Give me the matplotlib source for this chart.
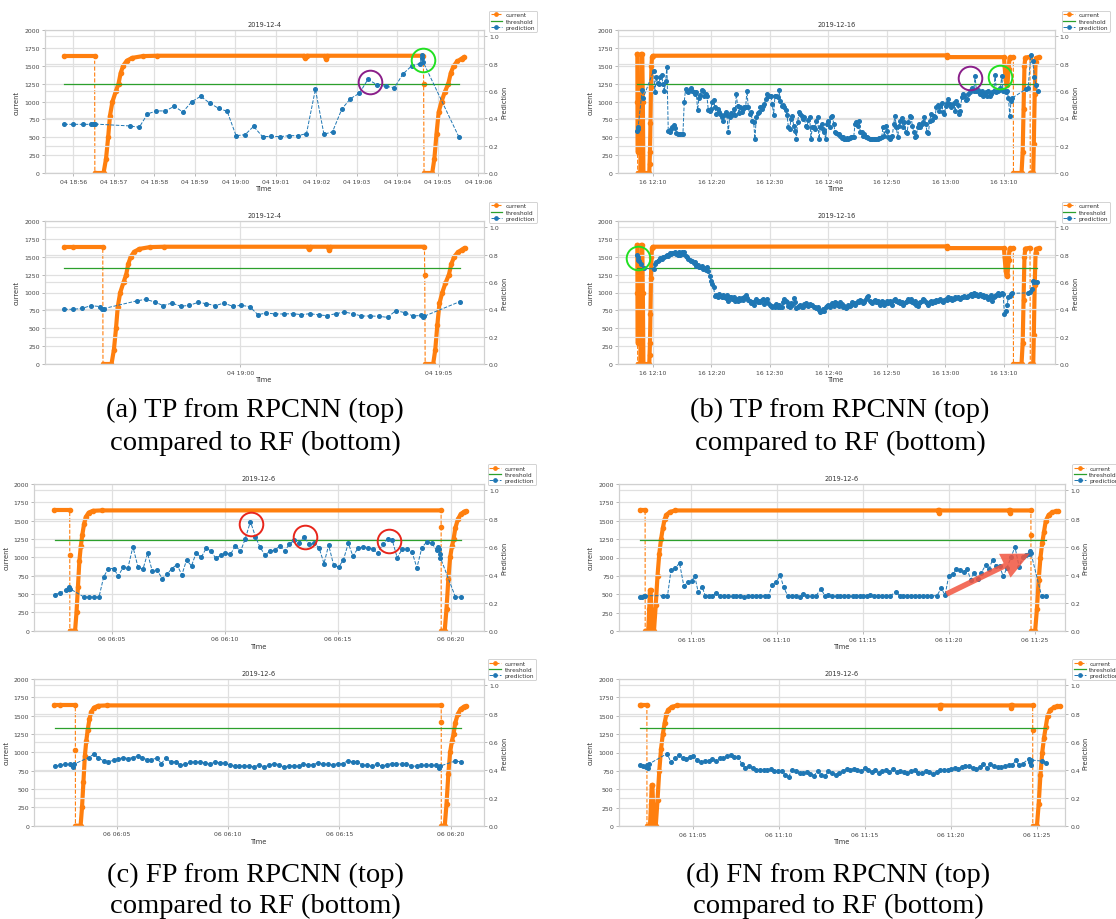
import numpy as np
import matplotlib
matplotlib.use('Agg')
import matplotlib.pyplot as plt
import matplotlib.dates as mdates
from matplotlib.lines import Line2D

# ------------------------------------------------------------------
# data (times are minutes after the base time of each case)
# current is stored as runs of dense sampling; gaps between runs are jumps
# ------------------------------------------------------------------

# (a) 2019-12-04, base 18:56
a_base = '2019-12-04T18:56:00'
a_cur_t = [[-0.459, -0.22, 0.53],
           [0.535, 0.75, 0.811, 0.864, 0.908, 0.97, 1.058, 1.12, 1.173, 1.235, 1.323, 1.455, 1.72, 2.072,
            5.70, 5.73, 5.76, 6.21, 6.235, 6.26, 8.642],
           [8.65],
           [8.66, 8.862, 8.915, 8.968, 9.021, 9.092, 9.171, 9.259, 9.321, 9.392, 9.48, 9.586, 9.656]]
a_cur_v = [[1640, 1640, 1640],
           [0, 0, 200, 500, 800, 1000, 1150, 1250, 1400, 1500, 1570, 1610, 1635, 1640,
            1640, 1612, 1640, 1640, 1598, 1640, 1640],
           [1250],
           [0, 0, 200, 550, 850, 1000, 1130, 1250, 1400, 1500, 1560, 1600, 1625]]
a_top_t = [-0.22, 0.0, 0.238, 0.441, 0.485, 0.529, 1.411, 1.631, 1.834, 2.055, 2.275, 2.496, 2.707, 2.928,
           3.148, 3.377, 3.589, 3.801, 4.021, 4.242, 4.453, 4.674, 4.894, 5.106, 5.335, 5.547, 5.758, 5.979,
           6.19, 6.402, 6.631, 6.843, 7.063, 7.275, 7.496, 7.716, 7.928, 8.139, 8.36, 8.554, 8.598, 8.62,
           8.642, 9.524]
a_top_p = [0.356, 0.356, 0.356, 0.356, 0.356, 0.358, 0.344, 0.334, 0.432, 0.454, 0.454, 0.488, 0.446, 0.522,
           0.561, 0.51, 0.473, 0.451, 0.273, 0.28, 0.341, 0.266, 0.268, 0.266, 0.273, 0.273, 0.288, 0.612,
           0.283, 0.302, 0.468, 0.544, 0.583, 0.685, 0.646, 0.634, 0.624, 0.724, 0.785, 0.80, 0.84, 0.86,
           0.81, 0.261]
a_bot_t = [-0.441, -0.216, 0.009, 0.234, 0.459, 0.505, 0.55, 1.405, 1.613, 1.838, 2.054, 2.279, 2.495, 2.712,
           2.937, 3.144, 3.369, 3.586, 3.802, 4.018, 4.234, 4.441, 4.658, 4.874, 5.099, 5.324, 5.541, 5.757,
           5.973, 6.18, 6.405, 6.622, 6.838, 7.054, 7.279, 7.495, 7.712, 7.919, 8.144, 8.36, 8.55, 8.595,
           8.64, 9.532]
a_bot_p = [0.40, 0.40, 0.407, 0.427, 0.42, 0.40, 0.405, 0.463, 0.473, 0.454, 0.427, 0.446, 0.422, 0.429,
           0.451, 0.441, 0.427, 0.446, 0.422, 0.429, 0.42, 0.361, 0.373, 0.366, 0.366, 0.368, 0.361, 0.368,
           0.359, 0.354, 0.368, 0.38, 0.368, 0.351, 0.351, 0.349, 0.341, 0.39, 0.376, 0.351, 0.355, 0.345,
           0.35, 0.456]
a_circ_t = [7.32, 8.624]
a_circ_p = [0.663, 0.829]
a_circ_c = ['#8a1f8a', '#22e022']

# (b) 2019-12-16, base 12:10
b_base = '2019-12-16T12:10:00'
b_cur_t = [[-2.74, -2.66, -2.64, -2.62],
           [-2.60, -2.15, -2.07, -1.97, -1.82, -1.72, -1.62, -0.62, -0.57, -0.50, -0.42, -0.33, -0.25, -0.15,
            -0.05, 50.2, 50.3, 60.0, 60.1, 60.3, 60.45, 60.6, 60.8, 60.95, 61.1, 61.6],
           [61.62, 63.0, 63.2, 63.35, 63.5, 63.65, 64.45],
           [64.5, 65.0, 65.1, 65.25, 65.4, 65.55, 65.95]]
b_cur_v = [[1662, 1662, 1000, 300],
           [0, 0, 1000, 1665, 1665, 1000, 0, 0, 130, 300, 700, 1200, 1500, 1620,
            1640, 1645, 1621, 1620, 1500, 1300, 1230, 1250, 1450, 1610, 1620, 1620],
           [0, 0, 300, 900, 1500, 1615, 1625],
           [0, 0, 400, 1100, 1550, 1610, 1620]]
b_sample_start = 0.114      # regular prediction sampling after restart
b_sample_step_s = 13.68
b_top_head_t = [-2.68, -2.62, -2.56, -1.82, -1.65]
b_top_head_p = [0.31, 0.334, 0.32, 0.61, 0.549]
b_top_p = [0.749, 0.595, 0.70, 0.66, 0.65, 0.70, 0.72, 0.65, 0.60, 0.67,
           0.778, 0.31, 0.303, 0.322, 0.334, 0.35, 0.33, 0.29, 0.285, 0.285,
           0.283, 0.285, 0.285, 0.52, 0.617, 0.60, 0.59, 0.61, 0.625, 0.60,
           0.59, 0.578, 0.59, 0.46, 0.545, 0.57, 0.61, 0.60, 0.56, 0.578,
           0.56, 0.463, 0.456, 0.47, 0.517, 0.534, 0.48, 0.431, 0.465, 0.443,
           0.431, 0.407, 0.383, 0.426, 0.443, 0.424, 0.297, 0.412, 0.44, 0.424,
           0.465, 0.424, 0.578, 0.49, 0.436, 0.48, 0.443, 0.468, 0.485, 0.48,
           0.60, 0.48, 0.431, 0.443, 0.383, 0.375, 0.249, 0.41, 0.436, 0.443,
           0.48, 0.468, 0.487, 0.504, 0.541, 0.578, 0.566, 0.56, 0.566, 0.504,
           0.426, 0.566, 0.566, 0.553, 0.61, 0.53, 0.487, 0.50, 0.48, 0.46,
           0.426, 0.339, 0.322, 0.395, 0.419, 0.346, 0.309, 0.249, 0.373, 0.443,
           0.431, 0.419, 0.395, 0.41, 0.346, 0.334, 0.39, 0.41, 0.249, 0.339,
           0.334, 0.322, 0.383, 0.407, 0.249, 0.334, 0.358,
           0.32, 0.30, 0.249, 0.358, 0.383, 0.334, 0.41, 0.42, 0.358, 0.30,
           0.29, 0.285, 0.285, 0.273, 0.254, 0.26, 0.249, 0.249, 0.254, 0.249,
           0.254, 0.26, 0.26, 0.26, 0.358, 0.37, 0.346, 0.38, 0.30, 0.297,
           0.273, 0.285, 0.26, 0.26, 0.254, 0.249, 0.249, 0.249, 0.249, 0.249,
           0.249, 0.249, 0.254, 0.254, 0.26, 0.34, 0.273, 0.346, 0.31, 0.26,
           0.249, 0.26, 0.27, 0.36, 0.419, 0.334, 0.26, 0.346, 0.38, 0.40,
           0.334, 0.37, 0.30, 0.29, 0.37, 0.419, 0.41, 0.346, 0.30, 0.26,
           0.273, 0.334, 0.358, 0.334, 0.36, 0.37, 0.41, 0.36, 0.30, 0.29,
           0.38, 0.431, 0.39, 0.419, 0.41, 0.485, 0.50, 0.456, 0.49, 0.51,
           0.443, 0.431, 0.49, 0.51, 0.541, 0.504, 0.48, 0.50, 0.514, 0.456,
           0.53, 0.50, 0.431, 0.456, 0.553, 0.578, 0.566, 0.534, 0.541, 0.58,
           0.59, 0.61, 0.62, 0.60, 0.71, 0.60, 0.61, 0.59, 0.58, 0.60,
           0.56, 0.578, 0.59, 0.566, 0.60, 0.56, 0.578, 0.59, 0.60, 0.72,
           0.59, 0.60, 0.61, 0.62, 0.71, 0.60, 0.61, 0.59, 0.60, 0.55,
           0.42, 0.53, 0.55]
b_top_tail_t = [63.82, 64.12, 64.6, 64.91, 65.21, 65.45, 65.76]
b_top_tail_p = [0.615, 0.62, 0.863, 0.822, 0.70, 0.644, 0.602]
b_bot_head_t = [-2.735, -2.62, -2.507, -2.39, -1.99, -1.595]
b_bot_head_p = [0.80, 0.78, 0.76, 0.75, 0.73, 0.70]
b_bot_p = [0.695, 0.73, 0.744, 0.756, 0.76, 0.775, 0.768, 0.785, 0.78, 0.792,
           0.80, 0.79, 0.81, 0.805, 0.814, 0.81, 0.817, 0.805, 0.80, 0.82,
           0.80, 0.817, 0.805, 0.822, 0.79, 0.78, 0.768, 0.76, 0.75, 0.756,
           0.736, 0.744, 0.72, 0.726, 0.712, 0.707, 0.72, 0.695, 0.70, 0.688,
           0.707, 0.683, 0.646, 0.61, 0.585, 0.56, 0.495, 0.507, 0.49, 0.512,
           0.50, 0.488, 0.505, 0.49, 0.48, 0.507, 0.463, 0.488, 0.49, 0.475,
           0.488, 0.463, 0.475, 0.463, 0.483, 0.468, 0.48, 0.468, 0.488, 0.507,
           0.483, 0.468, 0.458, 0.444, 0.45, 0.434, 0.463, 0.475, 0.45, 0.463,
           0.45, 0.468, 0.475, 0.44, 0.463, 0.475, 0.444, 0.434, 0.427, 0.415,
           0.427, 0.42, 0.44, 0.415, 0.434, 0.42, 0.415, 0.45, 0.475, 0.463,
           0.45, 0.427, 0.415, 0.444, 0.434, 0.483, 0.45, 0.41, 0.415, 0.427,
           0.434, 0.415, 0.42, 0.44, 0.444, 0.434, 0.427, 0.44, 0.434, 0.434,
           0.42, 0.42, 0.41, 0.415, 0.395, 0.383, 0.385,
           0.402, 0.39, 0.42, 0.427, 0.434, 0.42, 0.434, 0.444, 0.427, 0.45,
           0.444, 0.434, 0.427, 0.45, 0.44, 0.42, 0.427, 0.41, 0.415, 0.434,
           0.427, 0.434, 0.45, 0.444, 0.434, 0.444, 0.463, 0.45, 0.468, 0.458,
           0.444, 0.45, 0.475, 0.488, 0.50, 0.463, 0.45, 0.444, 0.458, 0.468,
           0.45, 0.458, 0.444, 0.434, 0.463, 0.45, 0.434, 0.444, 0.463, 0.444,
           0.458, 0.45, 0.434, 0.468, 0.475, 0.463, 0.45, 0.463, 0.444, 0.45,
           0.434, 0.444, 0.45, 0.463, 0.475, 0.463, 0.475, 0.45, 0.444, 0.458,
           0.434, 0.427, 0.444, 0.45, 0.463, 0.475, 0.468, 0.45, 0.444, 0.434,
           0.45, 0.463, 0.444, 0.458, 0.45, 0.468, 0.458, 0.468, 0.475, 0.463,
           0.45, 0.468, 0.475, 0.468, 0.488, 0.475, 0.483, 0.468, 0.475, 0.488,
           0.483, 0.49, 0.483, 0.475, 0.49, 0.488, 0.50, 0.49, 0.488, 0.50,
           0.507, 0.512, 0.50, 0.517, 0.507, 0.512, 0.50, 0.507, 0.512, 0.50,
           0.507, 0.49, 0.50, 0.488, 0.475, 0.49, 0.507, 0.463, 0.488, 0.50,
           0.507, 0.517, 0.507, 0.512, 0.517, 0.512, 0.366, 0.385, 0.434, 0.488,
           0.50, 0.512, 0.517]
b_bot_tail_t = [64.12, 64.48, 64.73, 65.03, 65.21, 65.64]
b_bot_tail_p = [0.52, 0.53, 0.548, 0.605, 0.598, 0.598]
b_top_circ_t = [54.23, 59.4]
b_top_circ_p = [0.695, 0.70]
b_top_circ_c = ['#8a1f8a', '#22e022']
b_bot_circ_t = [-2.55]
b_bot_circ_p = [0.778]
b_bot_circ_c = ['#22e022']

# (c) 2019-12-06, base 06:05
c_base = '2019-12-06T06:05:00'
c_cur_t = [[-2.84, -2.576, -1.865],
           [-1.863],
           [-1.86, -1.628, -1.565, -1.501, -1.438, -1.375, -1.312, -1.233, -1.154, -1.027, -0.838, -0.443, 14.57],
           [14.572],
           [14.575, 14.73, 14.81, 14.89, 14.97, 15.05, 15.125, 15.2, 15.315, 15.44, 15.6, 15.68]]
c_cur_v = [[1640, 1640, 1640],
           [1036],
           [0, 0, 250, 600, 950, 1150, 1300, 1450, 1550, 1610, 1635, 1640, 1640],
           [1410],
           [0, 0, 300, 700, 1000, 1150, 1250, 1400, 1520, 1590, 1625, 1630]]
c_top_t = [-2.529, -2.292, -2.023, -1.944, -1.912, -1.865, -1.233, -0.996, -0.79, -0.569,
           -0.364, -0.158, 0.079, 0.284, 0.506, 0.711, 0.932, 1.154, 1.375, 1.581,
           1.786, 2.007, 2.229, 2.45, 2.655, 2.877, 3.098, 3.303, 3.525, 3.73,
           3.951, 4.173, 4.394, 4.599, 4.821, 5.026, 5.247, 5.469, 5.69, 5.895,
           6.132, 6.354, 6.559, 6.78, 7.002, 7.223, 7.428, 7.65, 7.855, 8.076,
           8.298, 8.503, 8.724, 8.946, 9.167, 9.388, 9.594, 9.815, 10.036, 10.242,
           10.463, 10.668, 10.89, 11.111, 11.332, 11.554, 11.759, 11.98, 12.202, 12.407,
           12.628, 12.85, 13.071, 13.292, 13.498, 13.719, 13.94, 14.162, 14.367, 14.43,
           14.478, 14.51, 14.541, 15.205, 15.442]
c_top_p = [0.256, 0.27, 0.287, 0.295, 0.31, 0.30, 0.24, 0.24, 0.24, 0.24,
           0.383, 0.443, 0.443, 0.39, 0.455, 0.448, 0.599, 0.455, 0.438, 0.551,
           0.426, 0.431, 0.371, 0.405, 0.443, 0.472, 0.398, 0.503, 0.462, 0.556,
           0.522, 0.587, 0.568, 0.515, 0.539, 0.551, 0.544, 0.606, 0.565, 0.651,
           0.778, 0.671, 0.594, 0.539, 0.568, 0.575, 0.604, 0.57, 0.616, 0.647,
           0.627, 0.668, 0.62, 0.623, 0.592, 0.479, 0.611, 0.467, 0.455, 0.503,
           0.623, 0.532, 0.587, 0.599, 0.592, 0.582, 0.551, 0.616, 0.654, 0.647,
           0.52, 0.582, 0.582, 0.558, 0.448, 0.592, 0.635, 0.623, 0.575, 0.60,
           0.58, 0.55, 0.52, 0.24, 0.24]
c_bot_t = [-2.792, -2.551, -2.326, -2.086, -2.005, -1.957, -1.909,
           -1.267, -1.043, -0.834, -0.594, -0.385, -0.144, 0.048, 0.273, 0.497, 0.722,
           0.947, 1.139, 1.332, 1.556, 1.781, 2.005, 2.198, 2.423, 2.647, 2.856,
           3.08, 3.305, 3.53, 3.738, 3.963, 4.187, 4.396, 4.621, 4.845, 5.07,
           5.294, 5.503, 5.728, 5.952, 6.177, 6.385, 6.61, 6.835, 7.059, 7.268,
           7.492, 7.717, 7.942, 8.166, 8.375, 8.599, 8.824, 9.033, 9.257, 9.482,
           9.706, 9.915, 10.14, 10.364, 10.589, 10.797, 11.022, 11.247, 11.455, 11.68,
           11.904, 12.129, 12.354, 12.562, 12.787, 13.011, 13.236, 13.461, 13.669, 13.894,
           14.118, 14.327, 14.455, 14.487, 14.52, 15.209, 15.45]
c_bot_p = [0.424, 0.431, 0.438, 0.438, 0.43, 0.42, 0.44,
           0.486, 0.51, 0.484, 0.462, 0.455, 0.467, 0.474, 0.486, 0.479, 0.486,
           0.496, 0.486, 0.472, 0.472, 0.481, 0.443, 0.484, 0.453, 0.457, 0.431,
           0.438, 0.453, 0.455, 0.453, 0.448, 0.438, 0.455, 0.448, 0.448, 0.433,
           0.424, 0.424, 0.426, 0.426, 0.419, 0.436, 0.419, 0.431, 0.443, 0.436,
           0.419, 0.426, 0.426, 0.424, 0.438, 0.433, 0.436, 0.45, 0.438, 0.438,
           0.433, 0.443, 0.443, 0.462, 0.455, 0.455, 0.433, 0.431, 0.424, 0.438,
           0.424, 0.436, 0.443, 0.443, 0.438, 0.443, 0.426, 0.424, 0.431, 0.431,
           0.436, 0.431, 0.42, 0.41, 0.425, 0.462, 0.455]
c_circ_t = [6.164, 8.535, 12.249]
c_circ_p = [0.762, 0.666, 0.639]
c_circ_c = ['#e8261c', '#e8261c', '#e8261c']

# (d) 2019-12-06, base 11:05
d_base = '2019-12-06T11:05:00'
d_cur_t = [[-3.10, -3.0, -2.68],
           [-2.675, -2.50, -2.44, -2.40, -2.36, -2.32, -2.28, -2.165, -2.062, -1.959, -1.856, -1.753, -1.649,
            -1.546, -1.443, -1.237, -0.928, 14.36, 14.39, 14.42, 18.49, 18.52, 18.55, 19.753],
           [19.755],
           [19.76, 20.0, 20.103, 20.206, 20.309, 20.412, 20.515, 20.619, 20.784, 20.99, 21.196, 21.34]]
d_cur_v = [[1640, 1640, 1640],
           [0, 0, 300, 555, 555, 300, 0, 0, 350, 750, 1050, 1250, 1400,
            1520, 1580, 1620, 1640, 1640, 1610, 1640, 1640, 1610, 1640, 1640],
           [1304],
           [0, 0, 300, 700, 1000, 1200, 1350, 1500, 1580, 1615, 1630, 1630]]
d_top_t = [-2.99, -2.845, -2.763, -2.68, -1.649, -1.381, -1.175, -0.928, -0.68, -0.433,
           -0.206, 0.041, 0.206, 0.412, 0.619, 0.825, 1.031, 1.237, 1.464, 1.691,
           1.918, 2.165, 2.412, 2.619, 2.866, 3.093, 3.299, 3.546, 3.773, 4.021,
           4.268, 4.495, 4.701, 4.948, 5.175, 5.381, 5.608, 5.856, 6.082, 6.309,
           6.495, 6.742, 7.01, 7.258, 7.546, 7.794, 7.979, 8.206, 8.454, 8.66,
           8.907, 9.113, 9.381, 9.588, 9.794, 10.0, 10.206, 10.412, 10.639, 10.866,
           11.093, 11.34, 11.588, 11.918, 12.124, 12.33, 12.577, 12.784, 12.99, 13.237,
           13.464, 13.711, 13.959, 14.289, 14.536, 14.763, 14.969, 15.196, 15.423, 15.629,
           15.835, 16.041, 16.247, 16.454, 16.66, 16.866, 17.113, 17.32, 17.526, 17.732,
           17.938, 18.144, 18.351, 18.598, 18.825, 19.072, 19.278, 19.485, 19.649, 19.711,
           19.753, 20.371, 20.619]
d_top_p = [0.244, 0.244, 0.251, 0.251, 0.251, 0.247, 0.431, 0.448, 0.484, 0.323,
           0.347, 0.359, 0.39, 0.275, 0.316, 0.251, 0.251, 0.251, 0.27, 0.247,
           0.247, 0.247, 0.247, 0.247, 0.251, 0.244, 0.251, 0.251, 0.251, 0.251,
           0.251, 0.247, 0.328, 0.352, 0.395, 0.311, 0.251, 0.251, 0.251, 0.244,
           0.263, 0.251, 0.247, 0.251, 0.299, 0.247, 0.256, 0.247, 0.247, 0.251,
           0.251, 0.251, 0.247, 0.247, 0.251, 0.251, 0.251, 0.256, 0.251, 0.247,
           0.251, 0.251, 0.251, 0.28, 0.251, 0.251, 0.247, 0.251, 0.251, 0.251,
           0.247, 0.251, 0.251, 0.251, 0.304, 0.256, 0.388, 0.407, 0.438, 0.436,
           0.419, 0.443, 0.366, 0.414, 0.371, 0.414, 0.467, 0.443, 0.508, 0.462,
           0.46, 0.388, 0.448, 0.524, 0.599, 0.455, 0.527, 0.539, 0.551, 0.568,
           0.555, 0.251, 0.247]
d_bot_t = [-3.093, -2.887, -2.742, -2.68, -2.639, -2.577,
           -1.505, -1.278, -1.052, -0.825, -0.598, -0.392, -0.186, 0.021, 0.247, 0.454,
           0.68, 0.907, 1.134, 1.34, 1.567, 1.773, 2.0, 2.206, 2.412, 2.639,
           2.825, 3.031, 3.258, 3.464, 3.67, 3.876, 4.103, 4.309, 4.515, 4.722,
           4.948, 5.155, 5.361, 5.567, 5.773, 6.0, 6.206, 6.412, 6.619, 6.825,
           7.031, 7.258, 7.464, 7.67, 7.876, 8.082, 8.289, 8.495, 8.701, 8.928,
           9.134, 9.34, 9.546, 9.773, 9.979, 10.186, 10.392, 10.598, 10.804, 11.01,
           11.216, 11.423, 11.629, 11.856, 12.062, 12.268, 12.474, 12.68, 12.887, 13.113,
           13.32, 13.526, 13.732, 13.959, 14.165, 14.371, 14.577, 14.804, 15.01, 15.216,
           15.423, 15.629, 15.835, 16.041, 16.268, 16.474, 16.68, 16.887, 17.093, 17.299,
           17.526, 17.732, 17.938, 18.144, 18.351, 18.557, 18.763, 18.969, 19.175, 19.526,
           19.588, 19.629, 19.649, 20.268, 20.515]
d_bot_p = [0.436, 0.424, 0.419, 0.436, 0.412, 0.44,
           0.515, 0.453, 0.484, 0.503, 0.484, 0.479, 0.491, 0.498, 0.472, 0.455,
           0.46, 0.462, 0.479, 0.462, 0.484, 0.484, 0.496, 0.503, 0.491, 0.491,
           0.443, 0.414, 0.426, 0.414, 0.395, 0.40, 0.395, 0.40, 0.407, 0.388,
           0.39, 0.39, 0.366, 0.352, 0.402, 0.388, 0.376, 0.378, 0.383, 0.371,
           0.359, 0.39, 0.366, 0.354, 0.388, 0.376, 0.366, 0.378, 0.39, 0.407,
           0.402, 0.407, 0.40, 0.39, 0.41, 0.395, 0.383, 0.395, 0.376, 0.39,
           0.395, 0.383, 0.407, 0.383, 0.39, 0.383, 0.376, 0.39, 0.395, 0.378,
           0.376, 0.39, 0.383, 0.371, 0.383, 0.395, 0.40, 0.395, 0.405, 0.414,
           0.407, 0.419, 0.424, 0.424, 0.412, 0.407, 0.419, 0.443, 0.414, 0.438,
           0.424, 0.419, 0.419, 0.426, 0.431, 0.431, 0.467, 0.431, 0.443, 0.479,
           0.455, 0.431, 0.47, 0.462, 0.45]
d_arrow_t = [14.845, 19.69]
d_arrow_p = [0.263, 0.551]

thr_rpcnn = 0.65
thr_rf = 0.70

captions = [('(a) TP from RPCNN (top)', 'compared to RF (bottom)'),
            ('(b) TP from RPCNN (top)', 'compared to RF (bottom)'),
            ('(c) FP from RPCNN (top)', 'compared to RF (bottom)'),
            ('(d) FN from RPCNN (top)', 'compared to RF (bottom)')]

# ------------------------------------------------------------------
ORANGE = '#ff7f0e'
BLUE = '#1f77b4'
GREEN = '#2ca02c'
GRID = '#e0e0e0'

plt.rcParams.update({
    'font.family': 'DejaVu Sans',
    'font.size': 4.6,
    'axes.edgecolor': '#d0d0d0',
    'axes.linewidth': 0.8,
    'axes.labelcolor': '#333333',
    'text.color': '#333333',
    'xtick.color': '#b8b8b8',
    'ytick.color': '#b8b8b8',
    'xtick.labelcolor': '#444444',
    'ytick.labelcolor': '#444444',
    'xtick.labelsize': 4.4,
    'ytick.labelsize': 4.4,
    'xtick.major.size': 2.0,
    'ytick.major.size': 2.0,
    'xtick.major.width': 0.7,
    'ytick.major.width': 0.7,
    'xtick.major.pad': 2.0,
    'ytick.major.pad': 1.5,
})

fig = plt.figure(figsize=(11.16, 9.2), dpi=100)
W, H = 1116.0, 920.0


def tm(base, minutes):
    ms = np.round(np.asarray(minutes, dtype=float) * 60000).astype('int64')
    return np.datetime64(base, 'ms') + ms.astype('timedelta64[ms]')


def panel(box, base, xlim, cur_t, cur_v, pred_t, pred_v, thr, title, tick_step, leg_x,
          circ_t=(), circ_p=(), circ_c=(), arrow=None):
    x0, y0, x1, y1 = box
    ax = fig.add_axes([x0 / W, 1 - y1 / H, (x1 - x0) / W, (y1 - y0) / H])
    ax2 = ax.twinx()

    # current: only the window covered by the predictions
    start = pred_t[0] - 0.1
    runs = []
    for rt, rv in zip(cur_t, cur_v):
        pts = [(t, v) for t, v in zip(rt, rv) if t >= start]
        if pts:
            runs.append(pts)
    flat = [p for r in runs for p in r]
    ax.plot(tm(base, [p[0] for p in flat]), [p[1] for p in flat], '--', color=ORANGE, lw=0.8)
    for r in runs:
        ax.plot(tm(base, [p[0] for p in r]), [p[1] for p in r], '-', color=ORANGE, lw=3.0,
                marker='o', ms=3.0, solid_capstyle='round', solid_joinstyle='round')

    ax2.plot(tm(base, [pred_t[0], pred_t[-1]]), [thr, thr], '-', color=GREEN, lw=0.9)
    ax2.plot(tm(base, pred_t), pred_v, '--', color=BLUE, lw=0.7, marker='o', ms=2.6)

    for t, p, c in zip(circ_t, circ_p, circ_c):
        ax2.plot(tm(base, [t]), [p], 'o', ms=17, mfc='none', mec=c, mew=1.4)
    if arrow is not None:
        (ta, tb), (pa, pb) = arrow
        xa, xb = mdates.date2num(tm(base, [ta, tb]))
        ax2.annotate('', xy=(xb, pb), xytext=(xa, pa),
                     arrowprops=dict(arrowstyle='simple,head_length=2.0,head_width=1.9,tail_width=0.4',
                                     mutation_scale=10, color='#f2553f', alpha=0.85, lw=0,
                                     shrinkA=0, shrinkB=0))

    ax.set_xlim(tm(base, [xlim[0]])[0], tm(base, [xlim[1]])[0])
    ax.set_ylim(0, 2000)
    ax.set_yticks(np.arange(0, 2001, 250))
    ax2.set_ylim(0, 1.046)
    ax2.set_yticks([0.0, 0.2, 0.4, 0.6, 0.8, 1.0])
    ax.xaxis.set_major_locator(mdates.MinuteLocator(byminute=range(0, 60, tick_step)))
    ax.xaxis.set_major_formatter(mdates.DateFormatter('%d %H:%M'))

    ax.grid(True, color=GRID, lw=0.9)
    ax2.grid(True, axis='y', color=GRID, lw=0.9)
    for a in (ax, ax2):
        for s in a.spines.values():
            s.set_color('#d0d0d0')

    ax.set_title(title, fontsize=4.8, pad=3)
    ax.set_xlabel('Time', fontsize=4.8, labelpad=1)
    ax.set_ylabel('current', fontsize=4.8, labelpad=3)
    ax2.set_ylabel('Prediction', fontsize=4.8, labelpad=2)

    handles = [Line2D([], [], color=ORANGE, ls='--', lw=0.8, marker='o', ms=2.4),
               Line2D([], [], color=GREEN, lw=0.9),
               Line2D([], [], color=BLUE, ls='--', lw=0.7, marker='o', ms=2.4)]
    leg = ax2.legend(handles, ['current', 'threshold', 'prediction'], loc='upper left',
                     bbox_to_anchor=(leg_x, 1.136), borderaxespad=0, fontsize=4.2,
                     handlelength=2.0, handletextpad=0.6, labelspacing=0.2, borderpad=0.3,
                     frameon=True, fancybox=True, framealpha=1)
    leg.get_frame().set_edgecolor('#cccccc')
    leg.get_frame().set_linewidth(0.6)


b_top_t = b_top_head_t + [b_sample_start + i * b_sample_step_s / 60 for i in range(len(b_top_p))] + b_top_tail_t
b_top_all = b_top_head_p + b_top_p + b_top_tail_p
b_bot_t = b_bot_head_t + [b_sample_start + i * b_sample_step_s / 60 for i in range(len(b_bot_p))] + b_bot_tail_t
b_bot_all = b_bot_head_p + b_bot_p + b_bot_tail_p

panel((44.6, 31, 484, 174), a_base, (-0.705, 10.14), a_cur_t, a_cur_v, a_top_t, a_top_p,
      thr_rpcnn, '2019-12-4', 1, 1.011, a_circ_t, a_circ_p, a_circ_c)
panel((44.6, 222, 484, 365), a_base, (-0.937, 10.144), a_cur_t, a_cur_v, a_bot_t, a_bot_p,
      thr_rf, '2019-12-4', 5, 1.011)
panel((617.8, 31, 1054.7, 174), b_base, (-6.0, 68.67), b_cur_t, b_cur_v, b_top_t, b_top_all,
      thr_rpcnn, '2019-12-16', 10, 1.016, b_top_circ_t, b_top_circ_p, b_top_circ_c)
panel((617.8, 222, 1054.7, 365), b_base, (-6.0, 68.67), b_cur_t, b_cur_v, b_bot_t, b_bot_all,
      thr_rf, '2019-12-16', 10, 1.016, b_bot_circ_t, b_bot_circ_p, b_bot_circ_c)
panel((34, 485, 484, 631.7), c_base, (-3.446, 16.469), c_cur_t, c_cur_v, c_top_t, c_top_p,
      thr_rpcnn, '2019-12-6', 5, 1.008, c_circ_t, c_circ_p, c_circ_c)
panel((34, 680, 484, 826.7), c_base, (-3.722, 16.493), c_cur_t, c_cur_v, c_bot_t, c_bot_p,
      thr_rf, '2019-12-6', 5, 1.008)
panel((618.5, 485, 1065.3, 632), d_base, (-4.227, 21.753), d_cur_t, d_cur_v, d_top_t, d_top_p,
      thr_rpcnn, '2019-12-6', 5, 1.016, arrow=(d_arrow_t, d_arrow_p))
panel((618.5, 680, 1065.3, 827), d_base, (-4.33, 21.65), d_cur_t, d_cur_v, d_bot_t, d_bot_p,
      thr_rf, '2019-12-6', 5, 1.016)

cap_pos = [(255, 410, 443), (840, 410, 443), (255, 875, 906), (838, 875, 906)]
for (l1, l2), (cx, cy1, cy2) in zip(captions, cap_pos):
    fig.text(cx / W, 1 - cy1 / H, l1, ha='center', va='center', family='Liberation Serif',
             fontsize=20.5, color='black')
    fig.text(cx / W, 1 - cy2 / H, l2, ha='center', va='center', family='Liberation Serif',
             fontsize=20.5, color='black')

fig.savefig('out.png', dpi=100, facecolor='white')
